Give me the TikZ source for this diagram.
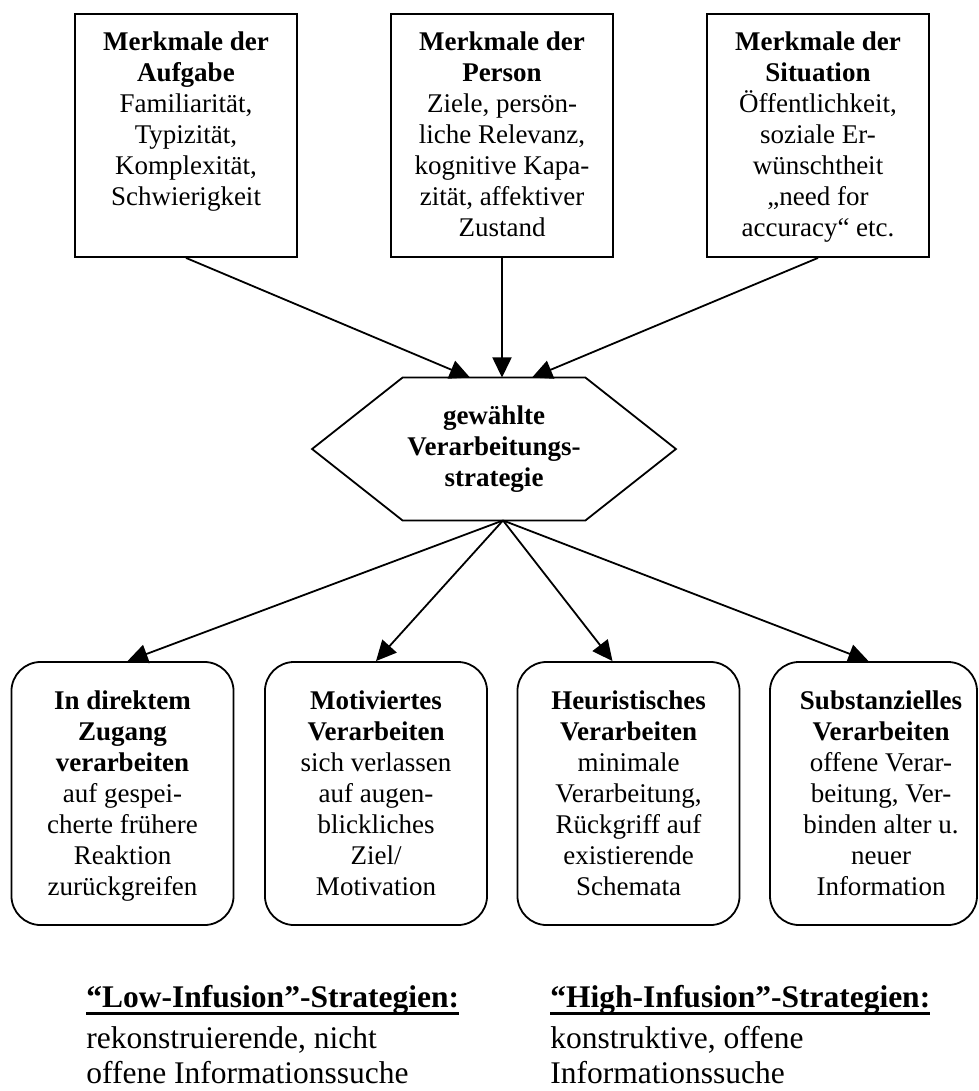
\documentclass[tikz,border=0pt]{standalone}
\usepackage{fontspec}
\setmainfont{Liberation Serif}
\usetikzlibrary{arrows.meta,calc}

\newsavebox{\strbox}
\newcommand{\unterstr}[1]{\sbox{\strbox}{#1}\rlap{\rule[-3.1pt]{\wd\strbox}{1.3pt}}\usebox{\strbox}}

\tikzset{
  kasten/.style={draw, line width=0.8pt, minimum width=98.7pt, minimum height=108pt},
  rundkasten/.style={draw, line width=0.8pt, rounded corners=13pt, minimum width=98.7pt, minimum height=116.9pt},
  inhalt/.style={inner sep=0pt, align=center, anchor=north, font=\fontsize{12}{13.8}\selectfont},
  fuss/.style={inner sep=0pt, align=left, anchor=north west, font=\fontsize{14}{15.6}\selectfont},
  pfeil/.style={line width=0.8pt, -{Triangle[length=9pt,width=8.5pt]}},
}

\begin{document}
\begin{tikzpicture}[x=0.4444pt,y=-0.4444pt]
\useasboundingbox (0,0) rectangle (979,1091);

% Merkmale
\node[kasten] (aufgabe) at (186,135.5) {};
\node[inhalt] (aufgabe-t) at (186,31) {\textbf{Merkmale der}\\\textbf{Aufgabe}\\Familiarität,\\Typizität,\\Komplexität,\\Schwierigkeit};
\node[kasten] (person) at (502,135.5) {};
\node[inhalt] (person-t) at (502,31) {\textbf{Merkmale der}\\\textbf{Person}\\Ziele, persön-\\liche Relevanz,\\kognitive Kapa-\\zität, affektiver\\Zustand};
\node[kasten] (situation) at (818,135.5) {};
\node[inhalt] (situation-t) at (818,31) {\textbf{Merkmale der}\\\textbf{Situation}\\Öffentlichkeit,\\soziale Er-\\wünschtheit\\„need for\\accuracy“ etc.};

% Strategie (Sechseck)
\node[minimum width=161.3pt, minimum height=63.1pt, inner sep=0pt, align=center,
      font=\fontsize{12}{13.8}\selectfont\bfseries] (strat) at (494,449) {gewählte\\Verarbeitungs-\\strategie};
\draw[line width=0.8pt] ($(strat.north west)+(90.5,0)$) -- ($(strat.north east)+(-90.5,0)$)
  -- (strat.east) -- ($(strat.south east)+(-90.5,0)$) -- ($(strat.south west)+(90.5,0)$)
  -- (strat.west) -- cycle;

% Verarbeitungsarten
\node[rundkasten] (zugang) at (122.5,793.5) {};
\node[inhalt] (zugang-t) at (122.5,690) {\textbf{In direktem}\\\textbf{Zugang}\\\textbf{verarbeiten}\\auf gespei-\\cherte frühere\\Reaktion\\zurückgreifen};
\node[rundkasten] (motiv) at (376,793.5) {};
\node[inhalt] (motiv-t) at (376,690) {\textbf{Motiviertes}\\\textbf{Verarbeiten}\\sich verlassen\\auf augen-\\blickliches\\Ziel/\\Motivation};
\node[rundkasten] (heur) at (628.5,793.5) {};
\node[inhalt] (heur-t) at (628.5,690) {\textbf{Heuristisches}\\\textbf{Verarbeiten}\\minimale\\Verarbeitung,\\Rückgriff auf\\existierende\\Schemata};
\node[rundkasten, minimum width=92pt] (subst) at (873.5,793.5) {};
\node[inhalt] (subst-t) at (881,690) {\textbf{Substanzielles}\\\textbf{Verarbeiten}\\offene Verar-\\beitung, Ver-\\binden alter u.\\neuer\\Information};

% Pfeile
\draw[pfeil] (aufgabe.south) -- ($(strat.north)+(-24,0)$);
\draw[pfeil] (person.south) -- (person.south |- strat.north);
\draw[pfeil] (situation.south) -- ($(strat.north)+(38,0)$);
\coordinate (knoten) at ($(strat.south)+(9,0)$);
\draw[pfeil] (knoten) -- ($(zugang.north)+(5,0)$);
\draw[pfeil] (knoten) -- (motiv.north);
\draw[pfeil] (knoten) -- ($(heur.north)+(-16,0)$);
\draw[pfeil] (knoten) -- ($(subst.north)+(-5,0)$);

% Low / High Infusion
\node[fuss] (low) at (86,985) {\unterstr{\textbf{“Low-Infusion”-Strategien:}}\\[2.4pt]rekonstruierende, nicht\\offene Informationssuche};
\node[fuss] (high) at (550,985) {\unterstr{\textbf{“High-Infusion”-Strategien:}}\\[2.4pt]konstruktive, offene\\Informationssuche};
\end{tikzpicture}
\end{document}
